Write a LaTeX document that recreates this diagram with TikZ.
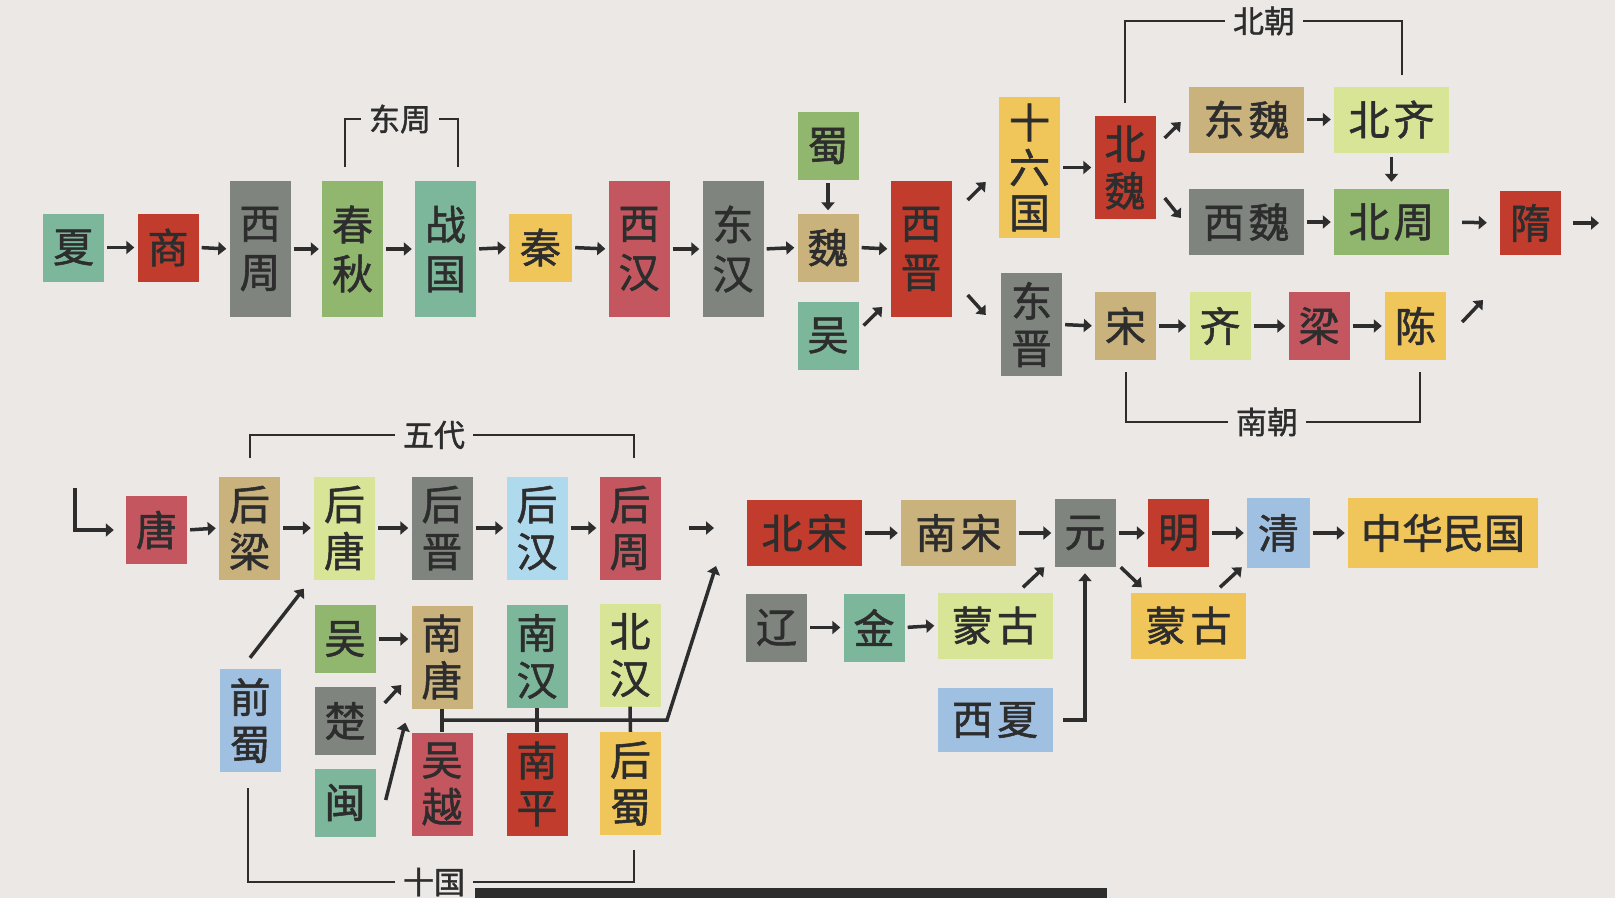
\documentclass[tikz,border=0pt]{standalone}
\usepackage{fontspec}
\setmainfont{Noto Sans CJK SC}[FakeBold=1.3]
\usetikzlibrary{arrows.meta,calc}
\definecolor{paperbg}{RGB}{236,232,230}
\definecolor{inkdark}{RGB}{45,45,45}
\definecolor{tealgreen}{RGB}{124,183,155}
\definecolor{brickred}{RGB}{193,60,45}
\definecolor{slategray}{RGB}{127,132,126}
\definecolor{leafgreen}{RGB}{145,182,110}
\definecolor{goldyellow}{RGB}{240,198,90}
\definecolor{rosered}{RGB}{196,86,95}
\definecolor{sandtan}{RGB}{202,178,125}
\definecolor{limepale}{RGB}{216,228,150}
\definecolor{skyblue}{RGB}{175,218,238}
\definecolor{mistblue}{RGB}{160,192,226}

\begin{document}
\begin{tikzpicture}[x=1pt,y=-1pt,
  >={Triangle[length=8pt,width=13pt]},
  era/.style={fill=#1,text=inkdark,inner sep=0pt,minimum width=61pt,
    minimum height=68pt,align=center,font=\fontsize{41}{49}\selectfont},
  tall/.style={minimum height=136pt},
  low/.style={minimum height=103pt,font=\fontsize{41}{47}\selectfont},
  wide/.style={minimum width=115pt,minimum height=66pt},
  lnk/.style={->,draw=inkdark,line width=3.5pt,shorten <=3pt,shorten >=3pt},
  dlnk/.style={->,draw=inkdark,line width=3.5pt},
  joint/.style={draw=inkdark,line width=3.5pt},
  brk/.style={draw=inkdark,line width=2pt},
  tag/.style={text=inkdark,inner sep=8pt,font=\fontsize{31}{31}\selectfont}]

%% ── paper ────────────────────────────────────────────────────────────────
\fill[paperbg] (0,0) rectangle (1615,898);
\useasboundingbox (0,0) rectangle (1615,898);

%% ════════════════════════════════════════════════════════════════════════
%%  UPPER ROW — Xia to Sui
%% ════════════════════════════════════════════════════════════════════════
\node[era=tealgreen] (xia) at (73.5,247.5) {夏};
\node[era=brickred] (shang) at (168,247.5) {商};
\node[era=slategray,tall] (xizhou) at (260,249) {西\\周};
\node[era=leafgreen,tall] (chunqiu) at (352.5,249) {春\\秋};
\node[era=tealgreen,tall] (zhanguo) at (445.5,249) {战\\国};
\node[era=goldyellow,minimum width=63pt] (qin) at (540.5,247.5) {秦};
\node[era=rosered,tall] (xihan) at (639,249) {西\\汉};
\node[era=slategray,tall] (donghan) at (733,249) {东\\汉};

%% three kingdoms
\node[era=leafgreen] (shu) at (828,146) {蜀};
\node[era=sandtan] (wei) at (828,247.5) {魏};
\node[era=tealgreen] (wu) at (828,335.5) {吴};
\node[era=brickred,tall] (xijin) at (921,249) {西\\晋};

%% north branch
\node[era=goldyellow,minimum height=141pt,font=\fontsize{41}{45}\selectfont]
  (shiliu) at (1029.5,167.5) {十\\六\\国};
\node[era=brickred,low] (beiwei) at (1125,167.5) {北\\魏};
\node[era=sandtan,wide] (dongwei) at (1246.5,119.5) {东\hspace{4pt}魏};
\node[era=limepale,wide] (beiqi) at (1391.5,119.5) {北\hspace{4pt}齐};
\node[era=slategray,wide] (xiwei) at (1246.5,222) {西\hspace{4pt}魏};
\node[era=leafgreen,wide] (beizhou) at (1391.5,222) {北\hspace{4pt}周};
\node[era=brickred,minimum height=64pt] (sui) at (1530.5,223) {隋};

%% south branch
\node[era=slategray,low] (dongjin) at (1031.5,324.5) {东\\晋};
\node[era=sandtan] (song) at (1125.5,326) {宋};
\node[era=limepale] (qi) at (1220,326) {齐};
\node[era=rosered] (liang) at (1319,326) {梁};
\node[era=goldyellow] (chen) at (1415.5,326) {陈};

%% arrows
\draw[lnk] (xia.east) -- (shang.west);
\draw[lnk] (shang.east) -- (xizhou.west);
\draw[lnk] (xizhou.east) -- (chunqiu.west);
\draw[lnk] (chunqiu.east) -- (zhanguo.west);
\draw[lnk] (zhanguo.east) -- (qin.west);
\draw[lnk] (qin.east) -- (xihan.west);
\draw[lnk] (xihan.east) -- (donghan.west);
\draw[lnk] (donghan.east) -- (wei.west);
\draw[lnk] (shu.south) -- (wei.north);
\draw[lnk] (wei.east) -- (xijin.west);
\draw[dlnk] ($(wu.east)+(5,-10)$) -- ($(xijin.west)+(-8,58)$);
\draw[dlnk] ($(xijin.east)+(16,-49)$) -- ($(shiliu.west)+(-13,14.5)$);
\draw[dlnk] ($(xijin.east)+(16,46)$) -- ($(dongjin.west)+(-15,-9.5)$);
\draw[lnk] (shiliu.east) -- (beiwei.west);
\draw[dlnk] ($(beiwei.east)+(9,-29.5)$) -- ($(dongwei.west)+(-8,2.5)$);
\draw[dlnk] ($(beiwei.east)+(9,30.5)$) -- ($(xiwei.west)+(-8,-4)$);
\draw[lnk] (dongwei.east) -- (beiqi.west);
\draw[lnk,shorten <=4pt,shorten >=7pt] (beiqi.south) -- (beizhou.north);
\draw[lnk] (xiwei.east) -- (beizhou.west);
\draw[lnk,shorten <=13pt,shorten >=13pt] (beizhou.east) -- (sui.west);
\coordinate (suiout) at (1599,223);
\draw[lnk,shorten <=12pt,shorten >=0pt] (sui.east) -- (suiout);
\draw[lnk] (dongjin.east) -- (song.west);
\draw[lnk] (song.east) -- (qi.west);
\draw[lnk] (qi.east) -- (liang.west);
\draw[lnk] (liang.east) -- (chen.west);
\coordinate (chenout) at (1483,300);
\draw[dlnk] ($(chen.east)+(16,-4)$) -- (chenout);

%% brackets
\node[tag] (dongzhou) at (400,119) {东周};
\draw[brk] ([xshift=-8pt,yshift=14pt]chunqiu.north) |- (dongzhou.west);
\draw[brk] ([xshift=12pt,yshift=14pt]zhanguo.north) |- (dongzhou.east);
\node[tag] (beichao) at (1264,21) {北朝};
\draw[brk] ([yshift=13pt]beiwei.north) |- (beichao.west);
\draw[brk] ([xshift=10pt,yshift=11pt]beiqi.north) |- (beichao.east);
\node[tag] (nanchao) at (1267,422) {南朝};
\draw[brk] ([yshift=-12pt]song.south) |- (nanchao.west);
\draw[brk] ([xshift=4pt,yshift=-12pt]chen.south) |- (nanchao.east);

%% ════════════════════════════════════════════════════════════════════════
%%  LOWER ROW — Tang to the Republic
%% ════════════════════════════════════════════════════════════════════════
\node[era=rosered] (tang) at (156.5,530) {唐};
\node[era=sandtan,low] (houliang) at (249.5,528) {后\\梁};
\node[era=limepale,low] (houtang) at (344.5,528) {后\\唐};
\node[era=slategray,low] (houjin) at (442,528) {后\\晋};
\node[era=skyblue,low] (houhan) at (537,528) {后\\汉};
\node[era=rosered,low] (houzhou) at (630,528) {后\\周};

%% ten kingdoms
\node[era=mistblue,low] (qianshu) at (250,720.5) {前\\蜀};
\node[era=leafgreen] (wushi) at (345,639) {吴};
\node[era=slategray] (chu) at (345,721) {楚};
\node[era=tealgreen] (min) at (345,802.5) {闽};
\node[era=sandtan,low] (nantang) at (442,657) {南\\唐};
\node[era=tealgreen,low] (nanhan) at (537,656.5) {南\\汉};
\node[era=limepale,low] (beihan) at (630,655) {北\\汉};
\node[era=rosered,low] (wuyue) at (442,784) {吴\\越};
\node[era=brickred,low] (nanping) at (537,784) {南\\平};
\node[era=goldyellow,low] (houshu) at (630.5,783.5) {后\\蜀};

%% song to republic
\node[era=brickred,wide] (beisong) at (804.5,533) {北\hspace{4pt}宋};
\node[era=sandtan,wide] (nansong) at (958.5,533) {南\hspace{4pt}宋};
\node[era=slategray] (yuan) at (1085,533) {元};
\node[era=brickred] (ming) at (1178.5,533) {明};
\node[era=mistblue,minimum width=63pt,minimum height=70pt] (qing) at (1278.5,533) {清};
\node[era=goldyellow,minimum width=190pt,minimum height=70pt]
  (minguo) at (1443,533) {中华民国};
\node[era=slategray] (liao) at (776.5,627.5) {辽};
\node[era=tealgreen] (jin) at (874,627.5) {金};
\node[era=limepale,wide] (menggu) at (995,625.5) {蒙\hspace{4pt}古};
\node[era=goldyellow,wide] (mengyuan) at (1188.5,625.5) {蒙\hspace{4pt}古};
\node[era=mistblue,wide,minimum height=64pt] (xixia) at (995,720) {西\hspace{4pt}夏};

%% arrows
\coordinate (tangin) at (75,488);
\draw[lnk,shorten <=0pt,shorten >=12pt] (tangin) |- (tang.west);
\draw[lnk] (tang.east) -- (houliang.west);
\draw[lnk] (houliang.east) -- (houtang.west);
\draw[lnk] (houtang.east) -- (houjin.west);
\draw[lnk] (houjin.east) -- (houhan.west);
\draw[lnk] (houhan.east) -- (houzhou.west);
\coordinate (zhouout) at (714,528);
\draw[lnk,shorten <=28pt,shorten >=0pt] (houzhou.east) -- (zhouout);
\draw[dlnk] ($(qianshu.north)+(0,-11)$) -- ($(houtang.south west)+(-10,9)$);
\draw[lnk] (wushi.east) -- (wushi.east -| nantang.west);
\draw[dlnk] ($(chu.east)+(9,-18)$) -- ($(nantang.west)+(-10,28)$);
\draw[dlnk] ($(min.east)+(10,-2.5)$) -- ($(nantang.south west)+(-6,14)$);

%% ten kingdoms joined toward the Song
\draw[joint] (nantang.south) -- (wuyue.north);
\draw[joint] (nanhan.south) -- (nanping.north);
\draw[joint] (beihan.south) -- (houshu.north);
\coordinate (tenbend) at (667,720);
\coordinate (tentip) at (716,566);
\draw[dlnk] (nantang.south |- tenbend) -- (tenbend) -- (tentip);

\draw[lnk] (beisong.east) -- (nansong.west);
\draw[lnk] (nansong.east) -- (yuan.west);
\draw[lnk] (yuan.east) -- (ming.west);
\draw[lnk] (ming.east) -- (qing.west);
\draw[lnk] (qing.east) -- (minguo.west);
\draw[lnk] (liao.east) -- (jin.west);
\draw[lnk] (jin.east) -- (menggu.west);
\draw[dlnk] ($(menggu.north)+(28,-5)$) -- ($(yuan.south west)+(-10,0)$);
\draw[dlnk] ($(yuan.south east)+(5,0)$) -- ($(mengyuan.north west)+(11,-5)$);
\draw[dlnk] ($(mengyuan.north)+(31.5,-5)$) -- ($(qing.south west)+(-5,-1)$);
\draw[lnk,shorten <=10pt,shorten >=6pt] (xixia.east) -| (yuan.south);

%% brackets
\node[tag] (wudai) at (434,435) {五代};
\draw[brk] ([yshift=18pt]houliang.north) |- (wudai.west);
\draw[brk] ([xshift=4pt,yshift=18pt]houzhou.north) |- (wudai.east);
\node[tag] (shiguo) at (434,882) {十国};
\draw[brk] ([xshift=-2pt,yshift=-16pt]qianshu.south) |- (shiguo.west);
\draw[brk] ([xshift=3pt,yshift=-15pt]houshu.south) |- (shiguo.east);

%% bar along the bottom edge
\fill[inkdark] (475,888) rectangle (1107,898);

\end{tikzpicture}
\end{document}
